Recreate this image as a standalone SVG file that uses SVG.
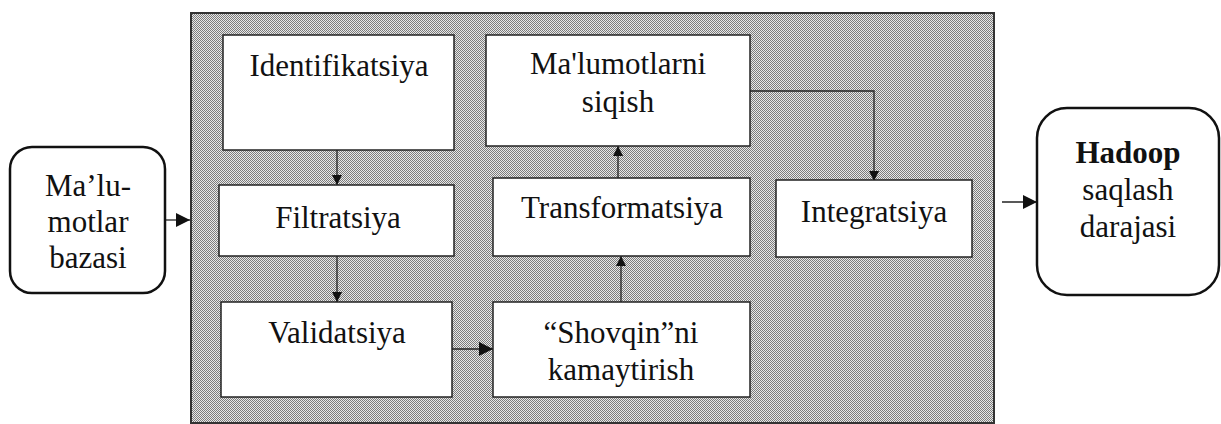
<svg xmlns="http://www.w3.org/2000/svg" width="1221" height="424" viewBox="0 0 1221 424" font-family="Liberation Serif, DejaVu Serif, serif">
<style>
text{font-size:31px;fill:#111;text-anchor:middle}
.b{font-weight:bold}
.box{fill:#fff;stroke:#222;stroke-width:1.5}
.rbox{fill:#fff;stroke:#111;stroke-width:2.5}
.c{fill:none;stroke:#222;stroke-width:1.3}
</style>
<defs>
<pattern id="dots" width="2" height="2" patternUnits="userSpaceOnUse">
<rect width="2" height="2" fill="#e8e8e8"/>
<rect width="1" height="1" fill="#7c7c7c"/>
<rect x="1" y="1" width="1" height="1" fill="#7c7c7c"/>
</pattern>
<marker id="ah" viewBox="0 0 10 10" refX="10" refY="5" markerWidth="10" markerHeight="10" markerUnits="userSpaceOnUse" orient="auto">
<path d="M0,0 L10,5 L0,10 Z" fill="#111"/>
</marker>
<marker id="ahL" viewBox="0 0 10 10" refX="10" refY="5" markerWidth="14" markerHeight="14" markerUnits="userSpaceOnUse" orient="auto">
<path d="M0,0 L10,5 L0,10 Z" fill="#111"/>
</marker>
</defs>
<rect width="1221" height="424" fill="#fff"/>
<g id="panel">
<rect x="191" y="13" width="803" height="410" fill="url(#dots)" stroke="#333" stroke-width="2"/>
</g>
<g id="connectors">
<line class="c" x1="166" y1="220" x2="190" y2="220" marker-end="url(#ahL)"/>
<line class="c" x1="337" y1="150" x2="337" y2="185" marker-end="url(#ah)"/>
<line class="c" x1="337" y1="256" x2="337" y2="302" marker-end="url(#ah)"/>
<line class="c" x1="452" y1="349" x2="493" y2="349" marker-end="url(#ahL)"/>
<line class="c" x1="621" y1="302" x2="621" y2="256" marker-end="url(#ah)"/>
<line class="c" x1="618" y1="178" x2="618" y2="146" marker-end="url(#ah)"/>
<polyline class="c" points="750,91 874,91 874,181" marker-end="url(#ah)"/>
<line class="c" x1="1002" y1="202" x2="1037" y2="202" marker-end="url(#ahL)"/>
</g>
<g id="n-malumotlar-bazasi">
<rect class="rbox" x="10" y="147" width="155" height="146" rx="22"/>
<text x="88" y="196">Ma’lu-</text>
<text x="88" y="232">motlar</text>
<text x="88" y="268">bazasi</text>
</g>
<g id="n-identifikatsiya">
<rect class="box" x="223" y="35" width="231" height="115"/>
<text x="339" y="76">Identifikatsiya</text>
</g>
<g id="n-filtratsiya">
<rect class="box" x="219" y="185" width="235" height="71"/>
<text x="338" y="228">Filtratsiya</text>
</g>
<g id="n-validatsiya">
<rect class="box" x="221" y="302" width="231" height="95"/>
<text x="337" y="343">Validatsiya</text>
</g>
<g id="n-siqish">
<rect class="box" x="486" y="35" width="264" height="111"/>
<text x="618" y="74">Ma'lumotlarni</text>
<text x="618" y="112">siqish</text>
</g>
<g id="n-transformatsiya">
<rect class="box" x="493" y="178" width="257" height="78"/>
<text x="622" y="218">Transformatsiya</text>
</g>
<g id="n-shovqin">
<rect class="box" x="493" y="302" width="257" height="95"/>
<text x="621" y="343">“Shovqin”ni</text>
<text x="621" y="380">kamaytirish</text>
</g>
<g id="n-integratsiya">
<rect class="box" x="776" y="180" width="196" height="77"/>
<text x="874" y="222">Integratsiya</text>
</g>
<g id="n-hadoop">
<rect class="rbox" x="1037" y="108" width="182" height="187" rx="30"/>
<text class="b" x="1128" y="163">Hadoop</text>
<text x="1128" y="200">saqlash</text>
<text x="1128" y="237">darajasi</text>
</g>
</svg>
